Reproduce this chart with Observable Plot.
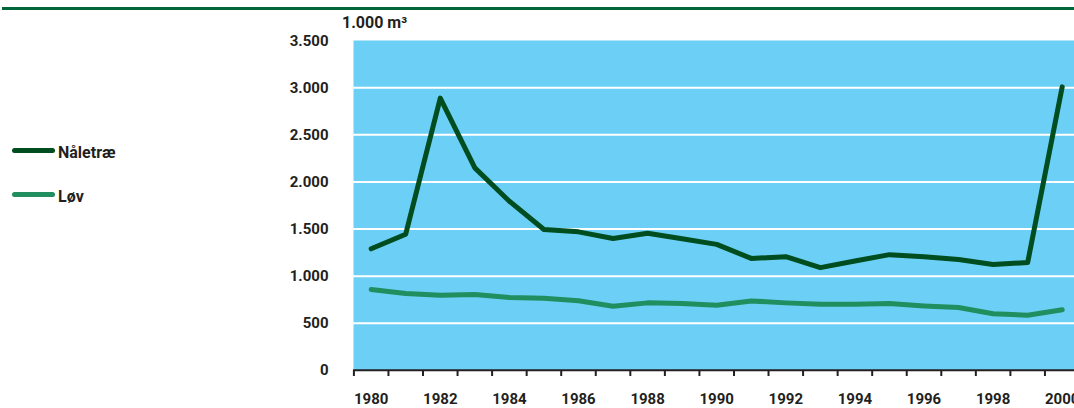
<!DOCTYPE html>
<html>
<head>
<meta charset="utf-8">
<script src="https://cdn.jsdelivr.net/npm/d3@7"></script>
<script src="https://cdn.jsdelivr.net/npm/@observablehq/plot@0.6"></script>
<style>
  html, body { margin: 0; padding: 0; background: #fff; overflow: hidden; }
  #wrap { position: relative; width: 1074px; height: 408px; font-family: Roboto, "Open Sans", sans-serif; font-weight: 700; color: #231f20; }
  .abs { position: absolute; }
  .topline { left: 2px; top: 7px; width: 1072px; height: 3px; background: #00663a; }
  .unit { left: 342px; top: 14.5px; font-size: 16px; line-height: 16px; white-space: nowrap; }
  .sw { left: 12px; width: 43px; height: 5px; border-radius: 3px; }
  .lab { left: 58px; font-size: 16px; line-height: 16px; white-space: nowrap; }
  #chart { position: absolute; left: 0; top: 0; }
</style>
</head>
<body>
<div id="wrap">
  <div class="abs topline"></div>
  <div id="chart"></div>
  <div class="abs unit">1.000 m³</div>
  <div class="abs sw" style="top:147.5px;background:#004d1f"></div>
  <div class="abs lab" style="top:144.5px">Nåletræ</div>
  <div class="abs sw" style="top:192px;background:#218e5f"></div>
  <div class="abs lab" style="top:189px">Løv</div>
</div>
<script>
const years = [1980,1981,1982,1983,1984,1985,1986,1987,1988,1989,1990,1991,1992,1993,1994,1995,1996,1997,1998,1999,2000];
const naaletrae = [1290,1445,2890,2150,1795,1495,1470,1400,1455,1397,1337,1188,1206,1090,1160,1228,1205,1177,1124,1145,3010];
const loev = [858,816,798,805,773,766,738,681,716,709,691,737,716,702,702,709,684,666,600,585,642];
const yTicks = [0,500,1000,1500,2000,2500,3000,3500];
const gridValues = [500,1000,1500,2000,2500,3000];
const xLabelTicks = [1980,1982,1984,1986,1988,1990,1992,1994,1996,1998,2000];
const xTickMarks = years.map(y => y - 0.5);

const rowsN = years.map((y, i) => ({year: y, value: naaletrae[i]}));
const rowsL = years.map((y, i) => ({year: y, value: loev[i]}));

const fmt = d3.formatLocale({decimal: ",", thousands: ".", grouping: [3], currency: ["", ""]}).format(",");

const chart = Plot.plot({
  width: 1074,
  height: 408,
  marginLeft: 353,
  marginRight: 0,
  marginTop: 40,
  marginBottom: 38,
  style: {fontFamily: "Roboto, 'Open Sans', sans-serif", fontSize: "15px", fontWeight: 700, color: "#231f20", background: "transparent"},
  x: {type: "linear", domain: [1979.5, 2000.5], range: [353.4, 1079]},
  y: {domain: [0, 3500], range: [369.8, 40.2]},
  marks: [
    Plot.frame({fill: "#6ccff5", stroke: null}),
    Plot.ruleY(gridValues, {stroke: "#ffffff", strokeWidth: 2}),
    Plot.line(rowsL, {x: "year", y: "value", stroke: "#218e5f", strokeWidth: 5, strokeLinejoin: "round", strokeLinecap: "round"}),
    Plot.line(rowsN, {x: "year", y: "value", stroke: "#004d1f", strokeWidth: 5, strokeLinejoin: "round", strokeLinecap: "round"}),
    Plot.axisY({ticks: yTicks, tickSize: 0, tickPadding: 25, tickFormat: fmt, label: null}),
    Plot.ruleY([0], {stroke: "#231f20", strokeWidth: 2}),
    Plot.axisX({ticks: xTickMarks, tickSize: 6, tickFormat: () => "", stroke: "#231f20", strokeWidth: 2, label: null}),
    Plot.axisX({ticks: xLabelTicks, tickSize: 0, tickPadding: 23, tickFormat: d => String(d), label: null})
  ]
});
document.getElementById("chart").appendChild(chart);
</script>
</body>
</html>
